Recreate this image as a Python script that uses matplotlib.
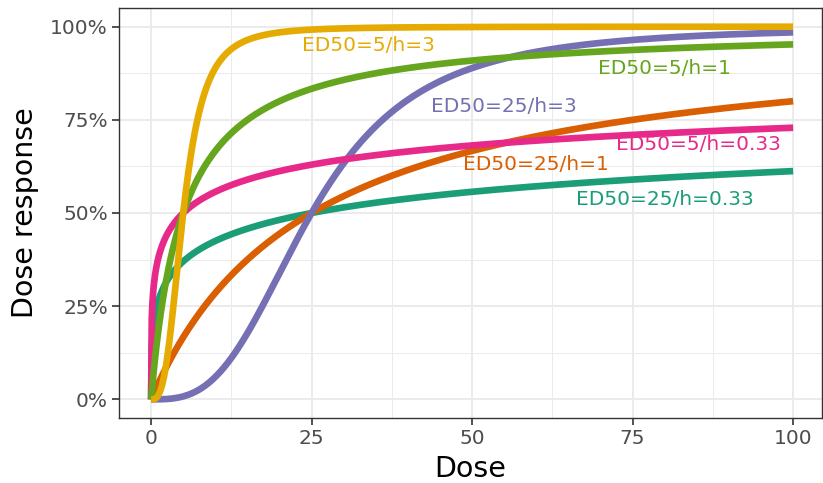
import numpy as np
import matplotlib
matplotlib.use("Agg")
import matplotlib.pyplot as plt
from matplotlib.ticker import FuncFormatter, MultipleLocator

# Curve parameters
labels = ["ED50=25/h=0.33", "ED50=25/h=1", "ED50=25/h=3",
          "ED50=5/h=0.33", "ED50=5/h=1", "ED50=5/h=3"]
ed50 = [25, 25, 25, 5, 5, 5]
hill = [0.33, 1, 3, 0.33, 1, 3]
colors = ["#1B9E77", "#D95F02", "#7570B3", "#E7298A", "#66A61E", "#E6AB02"]
label_x = [80, 60, 55, 85.2, 80, 33.8]
label_y = [0.536, 0.629, 0.787, 0.683, 0.888, 0.95]

dose = np.linspace(0, 100, 1001)

fig = plt.figure(figsize=(8.23, 4.83), dpi=100)
ax = fig.add_axes([119/823, 1-418/483, (822-119)/823, (418-8)/483])

for lab, e, h, c in zip(labels, ed50, hill, colors):
    resp = dose**h / (e**h + dose**h)
    ax.plot(dose, resp, color=c, lw=4.8, solid_capstyle="butt", zorder=3)

for lab, x, y, c in zip(labels, label_x, label_y, colors):
    ax.text(x, y, lab, color=c, fontsize=14.5, ha="center", va="center", zorder=4)

ax.set_xlim(-5, 104.5)
ax.set_ylim(-0.05, 1.05)
ax.xaxis.set_major_locator(MultipleLocator(25))
ax.xaxis.set_minor_locator(MultipleLocator(12.5))
ax.yaxis.set_major_locator(MultipleLocator(0.25))
ax.yaxis.set_minor_locator(MultipleLocator(0.125))
ax.yaxis.set_major_formatter(FuncFormatter(lambda v, p: f"{v*100:.0f}%"))
ax.grid(which="major", color="#EBEBEB", lw=1.4, zorder=0)
ax.grid(which="minor", color="#EBEBEB", lw=0.7, zorder=0)
ax.set_axisbelow(True)
for s in ax.spines.values():
    s.set_color("#333333")
    s.set_linewidth(1.0)
ax.tick_params(which="major", length=5, width=1.2, color="#333333",
               labelsize=14.5, labelcolor="#4D4D4D", pad=3)
ax.tick_params(which="minor", length=0)
ax.set_xlabel("Dose", fontsize=20.5, labelpad=5)
ax.set_ylabel("Dose response", fontsize=20.5, labelpad=8)

fig.savefig("out.png", dpi=100)
